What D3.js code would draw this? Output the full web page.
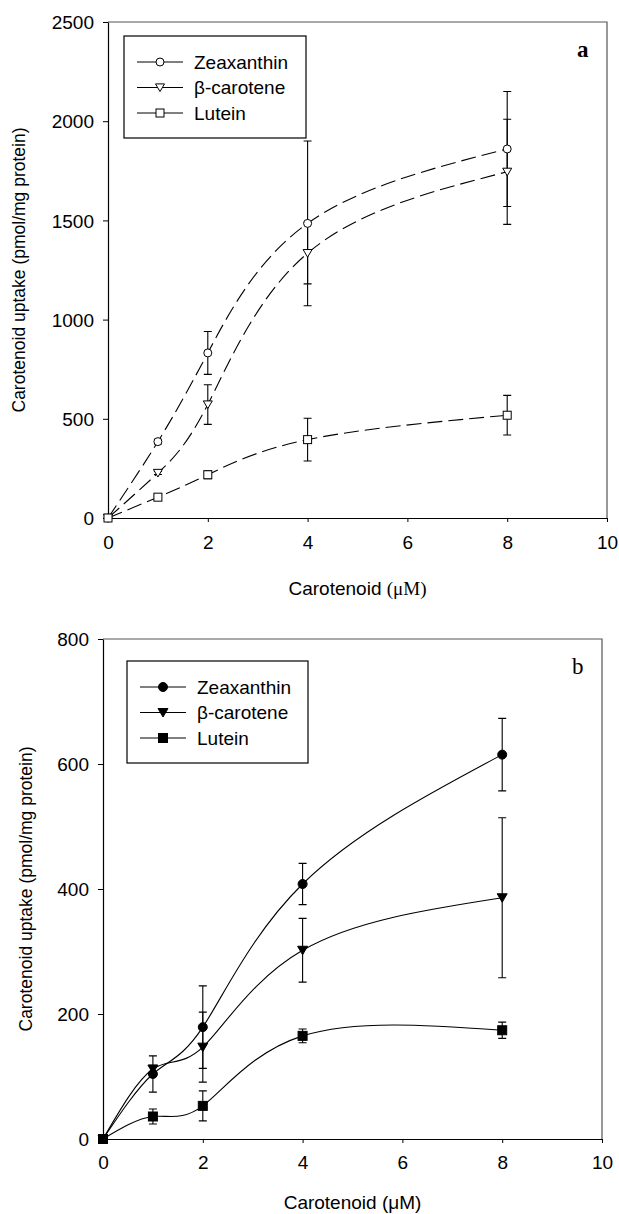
<!DOCTYPE html>
<html>
<head>
<meta charset="utf-8">
<script src="https://cdn.jsdelivr.net/npm/d3@7.9.0/dist/d3.min.js"></script>
<style>
  body { margin: 0; background: #fff; }
  svg text { font-family: "Liberation Sans", Arial, sans-serif; fill: #000; }
</style>
</head>
<body>
<svg id="chart" width="619" height="1214"></svg>
<script>
// concentrations (uM) used in both panels
const conc = [0, 1, 2, 4, 8];
const seriesNames = ['Zeaxanthin', 'β-carotene', 'Lutein'];
const xTicks = [0, 2, 4, 6, 8, 10];

// panel a
const aZeax = [0, 385, 832, 1485, 1860];
const aZeaxErr = [0, 12, 108, 415, 290];
const aBeta = [0, 227, 572, 1335, 1745];
const aBetaErr = [0, 8, 100, 155, 265];
const aLut = [0, 105, 218, 395, 518];
const aLutErr = [0, 8, 20, 108, 100];
const aTicks = [0, 500, 1000, 1500, 2000, 2500];

// panel b
const bZeax = [0, 104, 179, 408, 615];
const bZeaxErr = [0, 29, 66, 33, 58];
const bBeta = [0, 112, 147, 302, 386];
const bBetaErr = [0, 6, 56, 51, 128];
const bLut = [0, 36, 53, 165, 174];
const bLutErr = [0, 12, 24, 11, 13];
const bTicks = [0, 200, 400, 600, 800];

const svg = d3.select('#chart');
const FS = 19;

function marker(g, shape, cx, cy, filled) {
    let fill = filled ? '#000' : '#fff';
    if (shape === 'circle') {
        g.append('circle').attr('cx', cx).attr('cy', cy).attr('r', filled ? 4.5 : 4)
            .attr('fill', fill).attr('stroke', '#000');
    } else if (shape === 'tri') {
        let s = filled ? 5 : 4.5;
        g.append('path')
            .attr('d', `M${cx - s},${cy - s * 0.8}L${cx + s},${cy - s * 0.8}L${cx},${cy + s * 0.9}Z`)
            .attr('fill', fill).attr('stroke', '#000');
    } else {
        let s = filled ? 4.5 : 4;
        g.append('rect').attr('x', cx - s).attr('y', cy - s).attr('width', 2 * s).attr('height', 2 * s)
            .attr('fill', fill).attr('stroke', '#000');
    }
}

function drawPanel(cfg) {
    let x = d3.scaleLinear().domain([0, 10]).range([cfg.left, cfg.right]);
    let y = d3.scaleLinear().domain([0, cfg.yMax]).range([cfg.bottom, cfg.top]);
    let g = svg.append('g');

    // frame (top + right)
    g.append('path')
        .attr('d', `M${cfg.left},${cfg.top}H${cfg.right}V${cfg.bottom}`)
        .attr('fill', 'none').attr('stroke', '#555').attr('stroke-width', 1.2);

    let xAxis = g.append('g').attr('transform', `translate(0,${cfg.bottom})`)
        .call(d3.axisBottom(x).tickValues(xTicks).tickSize(4).tickPadding(cfg.xPad).tickSizeOuter(0));
    let yAxis = g.append('g').attr('transform', `translate(${cfg.left},0)`)
        .call(d3.axisLeft(y).tickValues(cfg.ticks).tickFormat(d3.format('d'))
            .tickSize(5).tickPadding(9).tickSizeOuter(0));
    [xAxis, yAxis].forEach((ax) => {
        ax.selectAll('text').attr('font-size', FS).attr('font-family', '"Liberation Sans", Arial, sans-serif');
        ax.select('.domain').attr('stroke-width', 1.2);
    });
    yAxis.selectAll('text').attr('dy', '0.35em');

    // axis titles
    let xt = g.append('text').attr('x', (cfg.left + cfg.right) / 2).attr('y', cfg.xTitleY)
        .attr('text-anchor', 'middle').attr('font-size', FS);
    xt.append('tspan').text('Carotenoid ');
    xt.append('tspan').text('(μM)').style('font-family', cfg.muSerif ? '"Liberation Serif", serif' : null);

    g.append('text').attr('transform', `translate(${cfg.yTitleX},${(cfg.top + cfg.bottom) / 2}) rotate(-90)`)
        .attr('text-anchor', 'middle').attr('font-size', 17.5)
        .text('Carotenoid uptake (pmol/mg protein)');

    // panel letter
    g.append('text').attr('x', cfg.right - 30).attr('y', cfg.top + 35)
        .attr('font-size', 23).attr('font-weight', cfg.letterBold ? 'bold' : null)
        .style('font-family', '"Liberation Serif", "Times New Roman", serif')
        .text(cfg.letter);

    let shapes = ['circle', 'tri', 'square'];
    let line = d3.line().x((d) => x(d[0])).y((d) => y(d[1])).curve(d3.curveNatural);

    cfg.series.forEach((s) => {
        let pts = conc.map((c, k) => [c, s.vals[k]]);
        g.append('path').attr('d', line(pts))
            .attr('fill', 'none').attr('stroke', '#000').attr('stroke-width', 1.1)
            .attr('stroke-dasharray', cfg.dash);
    });

    // error bars
    cfg.series.forEach((s) => {
        conc.forEach((c, k) => {
            let e = s.err[k];
            if (!e) return;
            let cx = x(c), y1 = y(s.vals[k] - e), y2 = y(s.vals[k] + e);
            g.append('path')
                .attr('d', `M${cx},${y1}V${y2}M${cx - 4},${y1}H${cx + 4}M${cx - 4},${y2}H${cx + 4}`)
                .attr('fill', 'none').attr('stroke', '#000').attr('stroke-width', 1.1);
        });
    });

    cfg.series.forEach((s, i) => {
        conc.forEach((c, k) => marker(g, shapes[i], x(c), y(s.vals[k]), cfg.filled));
    });

    // legend
    let L = cfg.legend;
    g.append('rect').attr('x', L.x).attr('y', L.y).attr('width', L.w).attr('height', L.h)
        .attr('fill', '#fff').attr('stroke', '#000').attr('stroke-width', 1.2);
    seriesNames.forEach((name, i) => {
        let ly = L.y + 26 + i * 25.5;
        g.append('line').attr('x1', L.x + 13).attr('x2', L.x + 59).attr('y1', ly).attr('y2', ly)
            .attr('stroke', '#000').attr('stroke-width', 1);
        marker(g, shapes[i], L.x + 36, ly, cfg.filled);
        g.append('text').attr('x', L.x + 70).attr('y', ly).attr('dy', '0.35em')
            .attr('font-size', FS).text(name);
    });
}

drawPanel({
    left: 108, right: 607, top: 22, bottom: 518, yMax: 2500, ticks: aTicks,
    xPad: 14, xTitleY: 595, yTitleX: 25, letter: 'a', letterBold: true, muSerif: true,
    dash: '15,6', filled: false,
    legend: { x: 124, y: 36, w: 182, h: 102 },
    series: [
        { vals: aZeax, err: aZeaxErr },
        { vals: aBeta, err: aBetaErr },
        { vals: aLut, err: aLutErr },
    ],
});

drawPanel({
    left: 103, right: 602, top: 639, bottom: 1139, yMax: 800, ticks: bTicks,
    xPad: 13, xTitleY: 1209, yTitleX: 32, letter: 'b', letterBold: false, muSerif: false,
    dash: null, filled: true,
    legend: { x: 127, y: 661, w: 181, h: 102 },
    series: [
        { vals: bZeax, err: bZeaxErr },
        { vals: bBeta, err: bBetaErr },
        { vals: bLut, err: bLutErr },
    ],
});
</script>
</body>
</html>
